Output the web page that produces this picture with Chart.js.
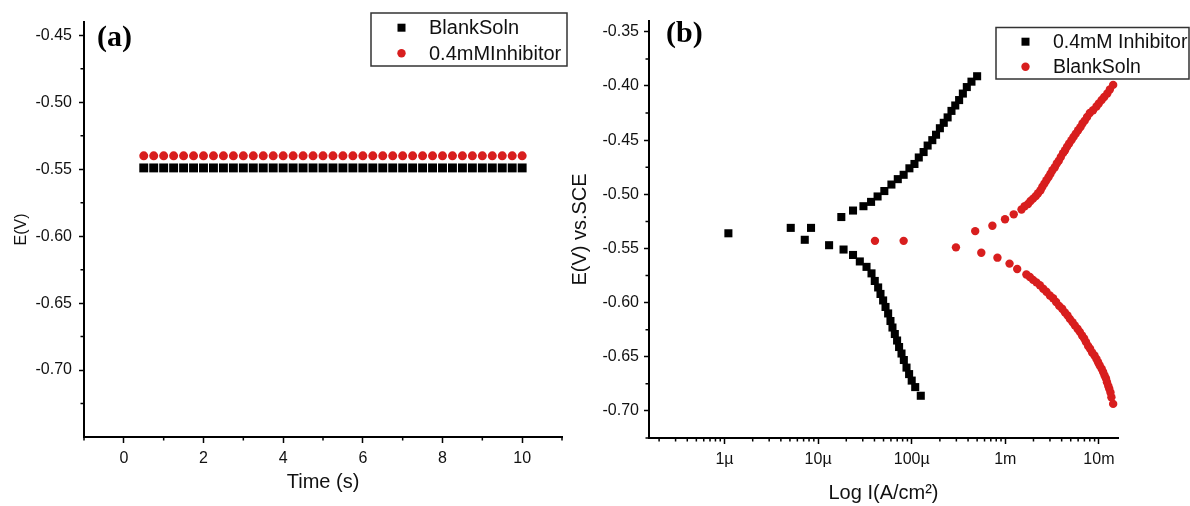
<!DOCTYPE html>
<html>
<head>
<meta charset="utf-8">
<script src="https://cdn.jsdelivr.net/npm/chart.js@4.4.1/dist/chart.umd.min.js"></script>
<style>
  html, body { margin: 0; padding: 0; background: #fff; }
  body { width: 1190px; height: 506px; position: relative; overflow: hidden; }
  #wrapA { position: absolute; left: 0; top: 0; width: 590px; height: 506px; }
  #wrapB { position: absolute; left: 560px; top: 0; width: 630px; height: 506px; }
</style>
</head>
<body>
<div id="wrapA"><canvas id="chartA" width="590" height="506"></canvas></div>
<div id="wrapB"><canvas id="chartB" width="630" height="506"></canvas></div>
<script>
// ---- panel (a): open circuit potential vs time ----
const timeS = [0.5, 0.75, 1, 1.25, 1.5, 1.75, 2, 2.25, 2.5, 2.75, 3, 3.25, 3.5, 3.75,
  4, 4.25, 4.5, 4.75, 5, 5.25, 5.5, 5.75, 6, 6.25, 6.5, 6.75, 7, 7.25, 7.5, 7.75,
  8, 8.25, 8.5, 8.75, 9, 9.25, 9.5, 9.75, 10];
const blankA = [-0.549, -0.549, -0.549, -0.549, -0.549, -0.549, -0.549, -0.549, -0.549, -0.549,
  -0.549, -0.549, -0.549, -0.549, -0.549, -0.549, -0.549, -0.549, -0.549, -0.549,
  -0.549, -0.549, -0.549, -0.549, -0.549, -0.549, -0.549, -0.549, -0.549, -0.549,
  -0.549, -0.549, -0.549, -0.549, -0.549, -0.549, -0.549, -0.549, -0.549];
const inhibA = [-0.540, -0.540, -0.540, -0.540, -0.540, -0.540, -0.540, -0.540, -0.540, -0.540,
  -0.540, -0.540, -0.540, -0.540, -0.540, -0.540, -0.540, -0.540, -0.540, -0.540,
  -0.540, -0.540, -0.540, -0.540, -0.540, -0.540, -0.540, -0.540, -0.540, -0.540,
  -0.540, -0.540, -0.540, -0.540, -0.540, -0.540, -0.540, -0.540, -0.540];
const timeTicks = [0, 2, 4, 6, 8, 10];
const timeMinor = [-1, 1, 3, 5, 7, 9, 11];
const eTicksA = [-0.45, -0.50, -0.55, -0.60, -0.65, -0.70];
const eMinorA = [-0.475, -0.525, -0.575, -0.625, -0.675, -0.725];

// ---- panel (b): Tafel plots ----
const inhibI = [1.25e-4, 1.09e-4, 1.0e-4, 9.38e-5, 8.8e-5, 8.24e-5, 7.78e-5, 7.33e-5, 6.98e-5, 6.6e-5,
  6.23e-5, 5.93e-5, 5.6e-5, 5.25e-5, 4.95e-5, 4.64e-5, 4.38e-5, 4.03e-5, 3.72e-5, 3.29e-5,
  2.79e-5, 2.36e-5, 1.87e-5, 1.31e-5, 7.2e-6, 1.1e-6, 5.1e-6, 8.4e-6, 1.77e-5, 2.36e-5,
  3.05e-5, 3.68e-5, 4.32e-5, 5.1e-5, 6.07e-5, 7.1e-5, 8.2e-5, 9.45e-5, 1.07e-4, 1.19e-4,
  1.34e-4, 1.48e-4, 1.66e-4, 1.82e-4, 2.0e-4, 2.2e-4, 2.42e-4, 2.66e-4, 2.92e-4, 3.21e-4,
  3.52e-4, 3.88e-4, 4.35e-4, 5.0e-4];
const inhibE = [-0.686, -0.678, -0.672, -0.666, -0.660, -0.653, -0.647, -0.641, -0.635, -0.629,
  -0.623, -0.617, -0.610, -0.604, -0.598, -0.592, -0.586, -0.580, -0.573, -0.567,
  -0.562, -0.556, -0.551, -0.547, -0.542, -0.536, -0.531, -0.531, -0.521, -0.515,
  -0.511, -0.507, -0.502, -0.497, -0.491, -0.486, -0.482, -0.476, -0.472, -0.466,
  -0.461, -0.455, -0.450, -0.445, -0.439, -0.434, -0.429, -0.423, -0.418, -0.413,
  -0.407, -0.401, -0.396, -0.391];
const blankI = [
  // cathodic branch
  1.42e-2, 1.36e-2, 1.33e-2, 1.29e-2, 1.26e-2, 1.22e-2, 1.19e-2, 1.15e-2, 1.11e-2, 1.07e-2,
  1.02e-2, 9.8e-3, 9.42e-3, 8.97e-3, 8.46e-3, 8.05e-3, 7.67e-3, 7.29e-3, 6.95e-3, 6.61e-3,
  6.25e-3, 5.91e-3, 5.53e-3, 5.22e-3, 4.89e-3, 4.62e-3, 4.33e-3, 4.05e-3, 3.76e-3, 3.49e-3,
  3.24e-3, 2.99e-3, 2.75e-3, 2.54e-3, 2.34e-3, 2.15e-3, 1.98e-3, 1.83e-3, 1.68e-3, 1.34e-3,
  1.11e-3, 8.24e-4, 5.54e-4, 2.97e-4,
  // near Ecorr
  4.05e-5, 8.2e-5, 4.77e-4, 7.28e-4, 9.93e-4,
  // anodic branch
  1.23e-3, 1.49e-3, 1.61e-3, 1.75e-3, 1.86e-3, 1.98e-3, 2.12e-3, 2.24e-3, 2.38e-3, 2.49e-3,
  2.62e-3, 2.75e-3, 2.90e-3, 3.04e-3, 3.19e-3, 3.38e-3, 3.55e-3, 3.73e-3, 3.92e-3, 4.14e-3,
  4.35e-3, 4.57e-3, 4.81e-3, 5.09e-3, 5.36e-3, 5.66e-3, 6.0e-3, 6.35e-3, 6.68e-3, 7.06e-3,
  7.48e-3, 8.0e-3, 8.67e-3, 9.42e-3, 9.98e-3, 1.07e-2, 1.14e-2, 1.23e-2, 1.31e-2, 1.42e-2];
const blankE = [
  -0.6935, -0.6873, -0.683, -0.6796, -0.677, -0.6735, -0.670, -0.6673, -0.664, -0.6611,
  -0.658, -0.655, -0.652, -0.6488, -0.646, -0.6426, -0.640, -0.6365, -0.633, -0.6303,
  -0.627, -0.6241, -0.621, -0.618, -0.615, -0.6118, -0.609, -0.6056, -0.603, -0.5995,
  -0.596, -0.5934, -0.590, -0.5872, -0.584, -0.5813, -0.579, -0.5764, -0.574, -0.569,
  -0.564, -0.5585, -0.554, -0.549,
  -0.543, -0.543, -0.534, -0.529, -0.523,
  -0.5185, -0.514, -0.5111, -0.509, -0.5062, -0.504, -0.5016, -0.499, -0.4963, -0.493,
  -0.4901, -0.487, -0.484, -0.481, -0.4778, -0.475, -0.4716, -0.469, -0.4655, -0.462,
  -0.4593, -0.456, -0.4531, -0.450, -0.447, -0.444, -0.4408, -0.438, -0.4347, -0.432,
  -0.4286, -0.425, -0.4224, -0.419, -0.4162, -0.413, -0.4101, -0.407, -0.4032, -0.399];
const logTicks = [1e-6, 1e-5, 1e-4, 1e-3, 1e-2];
const logLabels = ['1µ', '10µ', '100µ', '1m', '10m'];
const eTicksB = [-0.35, -0.40, -0.45, -0.50, -0.55, -0.60, -0.65, -0.70];
const eMinorB = [-0.375, -0.425, -0.475, -0.525, -0.575, -0.625, -0.675, -0.725];

const logMinor = [];
for (let n = -7; n <= -2; n++) {
  for (let k = 2; k <= 9; k++) logMinor.push(k * Math.pow(10, n));
}

Chart.defaults.font.family = '"Liberation Sans", Arial, sans-serif';
Chart.defaults.color = '#111';

const RED = '#d81e1e';
const BLACK = '#000000';

function pts(xs, ys) {
  return xs.map((v, i) => ({ x: v, y: ys[i] }));
}

// minor ticks, legend box and panel tag
const decor = {
  id: 'decor',
  afterDraw(chart, args, o) {
    const ctx = chart.ctx;
    const xs = chart.scales.x, ys = chart.scales.y;
    const area = chart.chartArea;
    ctx.save();
    ctx.strokeStyle = '#000';
    ctx.lineWidth = 1.5;
    ctx.beginPath();
    o.minorX.forEach(v => {
      if (v < xs.min || v > xs.max) return;
      const p = xs.getPixelForValue(v);
      ctx.moveTo(p, area.bottom);
      ctx.lineTo(p, area.bottom + 3.5);
    });
    o.minorY.forEach(v => {
      if (v < ys.min || v > ys.max) return;
      const p = ys.getPixelForValue(v);
      ctx.moveTo(area.left, p);
      ctx.lineTo(area.left - 3.5, p);
    });
    ctx.stroke();

    // legend
    const b = o.box;
    ctx.strokeStyle = '#333';
    ctx.lineWidth = 1.5;
    ctx.strokeRect(b[0], b[1], b[2], b[3]);
    ctx.font = o.legendSize + 'px "Liberation Sans"';
    ctx.textBaseline = 'middle';
    ctx.textAlign = 'left';
    chart.data.datasets.forEach((ds, i) => {
      const y = o.rowY[i];
      ctx.fillStyle = ds.pointBackgroundColor;
      if (ds.pointStyle === 'rect') {
        ctx.fillRect(o.markX - 4, y - 4, 8, 8);
      } else {
        ctx.beginPath();
        ctx.arc(o.markX, y, 4.2, 0, Math.PI * 2);
        ctx.fill();
      }
      ctx.fillStyle = '#111';
      ctx.fillText(ds.label, o.textX, y + 1);
    });

    // panel tag
    ctx.fillStyle = '#000';
    ctx.font = 'bold 30px "Liberation Serif"';
    ctx.fillText(o.tag, o.tagX, o.tagY);
    ctx.restore();
  }
};

const axisBorder = { display: true, color: '#000', width: 2 };
const tickGrid = { display: true, drawOnChartArea: false, drawTicks: true, tickLength: 5, tickColor: '#000', tickWidth: 1.5 };

new Chart(document.getElementById('chartA').getContext('2d'), {
  type: 'scatter',
  data: {
    datasets: [{
      label: 'BlankSoln',
      data: pts(timeS, blankA),
      pointStyle: 'rect',
      pointRadius: 6.3,
      pointBackgroundColor: BLACK,
      pointBorderWidth: 0
    }, {
      label: '0.4mMInhibitor',
      data: pts(timeS, inhibA),
      pointStyle: 'circle',
      pointRadius: 4.5,
      pointBackgroundColor: RED,
      pointBorderWidth: 0
    }]
  },
  options: {
    responsive: false,
    animation: false,
    events: [],
    layout: { padding: { left: 0, top: 22, right: 28, bottom: 0 } },
    plugins: {
      legend: { display: false },
      tooltip: { enabled: false },
      decor: {
        minorX: timeMinor, minorY: eMinorA,
        box: [371, 13, 196, 53], rowY: [27.7, 53.3], markX: 401.5, textX: 429, legendSize: 20,
        tag: '(a)', tagX: 97, tagY: 38
      }
    },
    scales: {
      x: {
        type: 'linear', min: -1, max: 11,
        afterBuildTicks: s => { s.ticks = timeTicks.map(v => ({ value: v })); },
        afterFit: s => { s.height = 69; },
        border: axisBorder,
        grid: Object.assign({}, tickGrid, { tickLength: 6 }),
        ticks: { font: { size: 16 }, padding: 6, maxRotation: 0, autoSkip: false, callback: v => String(v) },
        title: { display: true, text: 'Time (s)', font: { size: 20 }, padding: { top: 0, bottom: 12 } }
      },
      y: {
        type: 'linear', min: -0.75, max: -0.44,
        afterBuildTicks: s => { s.ticks = eTicksA.map(v => ({ value: v })); },
        afterFit: s => { s.width = 84; },
        border: axisBorder,
        grid: tickGrid,
        ticks: { font: { size: 16 }, padding: 7, autoSkip: false, callback: v => v.toFixed(2) },
        title: { display: true, text: 'E(V)', font: { size: 16 }, padding: { top: 12, bottom: 0 } }
      }
    }
  },
  plugins: [decor]
});

new Chart(document.getElementById('chartB').getContext('2d'), {
  type: 'scatter',
  data: {
    datasets: [{
      label: '0.4mM Inhibitor',
      data: pts(inhibI, inhibE),
      pointStyle: 'rect',
      pointRadius: 5.7,
      pointBackgroundColor: BLACK,
      pointBorderWidth: 0
    }, {
      label: 'BlankSoln',
      data: pts(blankI, blankE),
      pointStyle: 'circle',
      pointRadius: 4.2,
      pointBackgroundColor: RED,
      pointBorderWidth: 0
    }]
  },
  options: {
    responsive: false,
    animation: false,
    events: [],
    layout: { padding: { left: 0, top: 21, right: 72, bottom: 0 } },
    plugins: {
      legend: { display: false },
      tooltip: { enabled: false },
      decor: {
        minorX: logMinor, minorY: eMinorB,
        box: [436, 27.5, 193, 51.5], rowY: [41.7, 66.7], markX: 465.5, textX: 493, legendSize: 19.5,
        tag: '(b)', tagX: 106, tagY: 34
      }
    },
    scales: {
      x: {
        type: 'logarithmic', min: 1.56e-7, max: 0.016,
        afterBuildTicks: s => { s.ticks = logTicks.map(v => ({ value: v })); },
        afterFit: s => { s.height = 68; },
        border: axisBorder,
        grid: Object.assign({}, tickGrid, { tickLength: 6 }),
        ticks: { font: { size: 16 }, padding: 6, maxRotation: 0, autoSkip: false, callback: (v, i) => logLabels[i] },
        title: { display: true, text: 'Log I(A/cm²)', font: { size: 20 }, padding: { top: 0, bottom: 1 } }
      },
      y: {
        type: 'linear', min: -0.725, max: -0.34,
        afterBuildTicks: s => { s.ticks = eTicksB.map(v => ({ value: v })); },
        afterFit: s => { s.width = 89; },
        border: axisBorder,
        grid: tickGrid,
        ticks: { font: { size: 16 }, padding: 5, autoSkip: false, callback: v => v.toFixed(2) },
        title: { display: true, text: 'E(V) vs.SCE', font: { size: 20 }, padding: { top: 8, bottom: 0 } }
      }
    }
  },
  plugins: [decor]
});
</script>
</body>
</html>
